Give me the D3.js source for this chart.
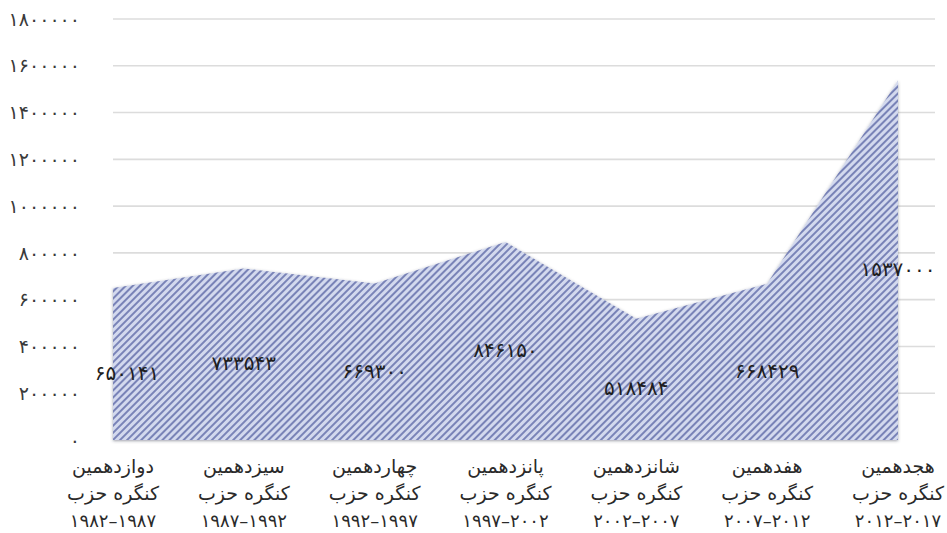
<!DOCTYPE html>
<html>
<head>
<meta charset="utf-8">
<script src="https://cdn.jsdelivr.net/npm/d3@7"></script>
<style>
  html, body { margin: 0; padding: 0; background: #ffffff; }
  svg { display: block; font-family: "DejaVu Sans", sans-serif; }
</style>
</head>
<body>
<svg id="chart" width="947" height="533"></svg>
<script>
// Data
const congressOrdinals = ["دوازدهمین", "سیزدهمین", "چهاردهمین", "پانزدهمین", "شانزدهمین", "هفدهمین", "هجدهمین"];
const congressPeriods = ["۱۹۸۲–۱۹۸۷", "۱۹۸۷–۱۹۹۲", "۱۹۹۲–۱۹۹۷", "۱۹۹۷–۲۰۰۲", "۲۰۰۲–۲۰۰۷", "۲۰۰۷–۲۰۱۲", "۲۰۱۲–۲۰۱۷"];
const newMembers = [650141, 733543, 669300, 846150, 518484, 668429, 1537000];
const yTicks = [0, 200000, 400000, 600000, 800000, 1000000, 1200000, 1400000, 1600000, 1800000];

// Persian digits
const faDigits = "۰۱۲۳۴۵۶۷۸۹";
function toFa(n) {
    return String(n).replace(/[0-9]/g, d => faDigits[+d]);
}

const svg = d3.select("#chart");

const plotLeft = 113, plotRight = 935, areaRight = 898;
const y = d3.scaleLinear().domain([0, 1800000]).range([440, 19]);
const x = d3.scalePoint().domain(d3.range(newMembers.length)).range([plotLeft, areaRight]);

// hatch pattern + soft shadow
const defs = svg.append("defs");
const pat = defs.append("pattern")
    .attr("id", "hatch")
    .attr("patternUnits", "userSpaceOnUse")
    .attr("width", 5)
    .attr("height", 5)
    .attr("patternTransform", "rotate(45)");
pat.append("rect").attr("width", 5).attr("height", 5).attr("fill", "#d3d9ee");
pat.append("rect").attr("width", 2).attr("height", 5).attr("fill", "#7983b7");

const shadow = defs.append("filter")
    .attr("id", "shadow")
    .attr("x", "-5%").attr("y", "-10%")
    .attr("width", "110%").attr("height", "120%");
shadow.append("feDropShadow")
    .attr("dx", 0).attr("dy", 1)
    .attr("stdDeviation", 1.6)
    .attr("flood-color", "#3a3f55")
    .attr("flood-opacity", 0.5);

// gridlines
svg.append("g")
    .selectAll("line")
    .data(yTicks.filter(t => t > 0))
    .join("line")
    .attr("x1", plotLeft)
    .attr("x2", plotRight)
    .attr("y1", d => y(d))
    .attr("y2", d => y(d))
    .attr("stroke", "#dcdcdc")
    .attr("stroke-width", 1.6);

// y tick labels
svg.append("g")
    .selectAll("text")
    .data(yTicks)
    .join("text")
    .attr("x", 80)
    .attr("y", d => y(d))
    .attr("dy", "0.35em")
    .attr("text-anchor", "end")
    .attr("font-size", 19)
    .attr("fill", "#3a3a3a")
    .text(d => toFa(d));

// area
const area = d3.area()
    .x((d, i) => x(i))
    .y0(y(0))
    .y1(d => y(d));

svg.append("path")
    .datum(newMembers)
    .attr("d", area)
    .attr("fill", "url(#hatch)")
    .attr("filter", "url(#shadow)");

// value labels, centred at half height
svg.append("g")
    .selectAll("text")
    .data(newMembers)
    .join("text")
    .attr("x", (d, i) => Math.min(Math.max(x(i), plotLeft + 14), 947 - 44))
    .attr("y", d => y(d / 2))
    .attr("dy", "0.8em")
    .attr("text-anchor", "middle")
    .attr("font-size", 20)
    .attr("fill", "#1e1e1e")
    .text(d => toFa(d));

// category labels (three lines), kept inside the right edge
const catX = i => Math.min(x(i), 947 - 47);
const cat = svg.append("g")
    .selectAll("text")
    .data(congressOrdinals)
    .join("text")
    .attr("text-anchor", "middle")
    .attr("font-size", 19)
    .attr("fill", "#2a2a2a");

cat.append("tspan")
    .attr("x", (d, i) => catX(i))
    .attr("y", 473)
    .text(d => d);
cat.append("tspan")
    .attr("x", (d, i) => catX(i))
    .attr("y", 500)
    .text("کنگره حزب");
cat.append("tspan")
    .attr("x", (d, i) => catX(i))
    .attr("y", 527)
    .attr("font-size", 18)
    .text((d, i) => congressPeriods[i]);
</script>
</body>
</html>
